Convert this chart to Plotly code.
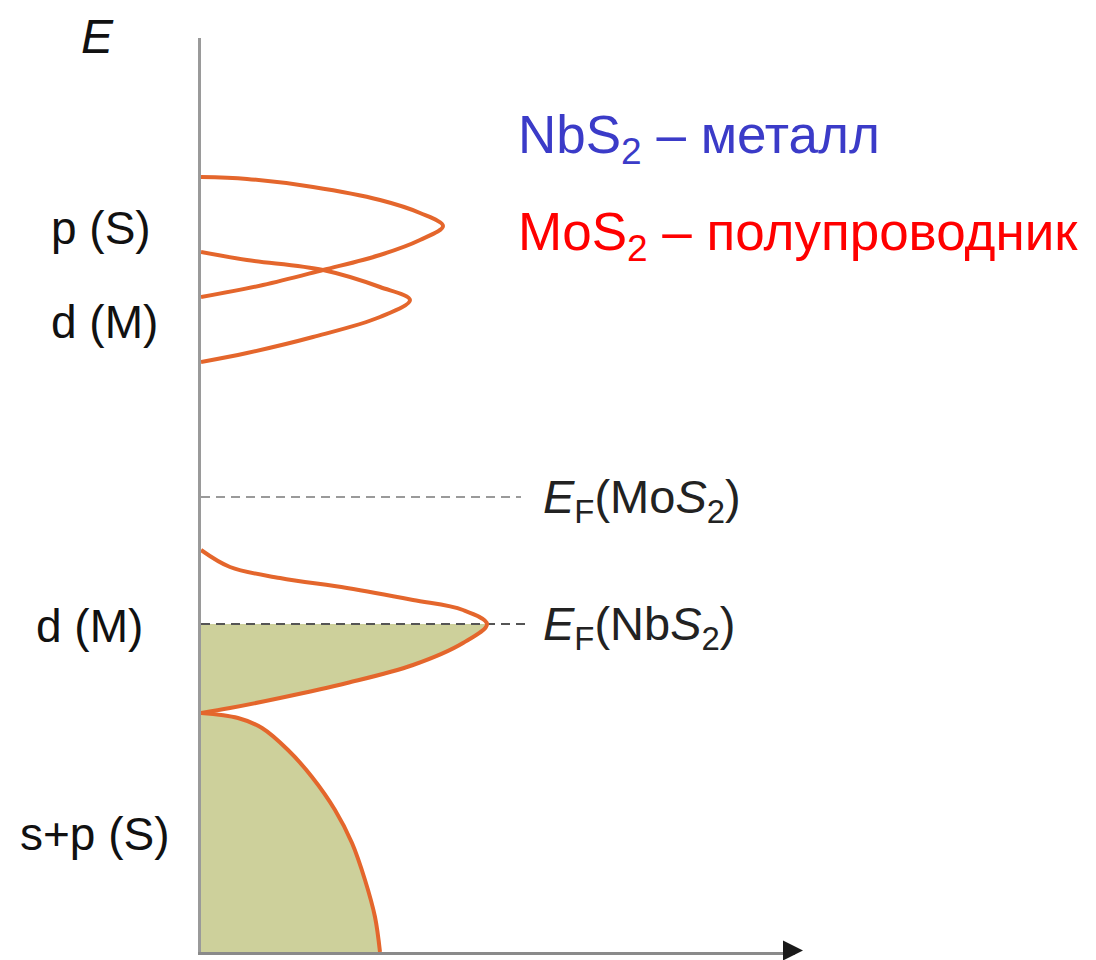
import plotly.graph_objects as go

# ---- data (DOS on x, energy E on y; arbitrary units) ----
pS_dos = [0, 0.46, 1.12, 1.79, 2.19, 2.42, 2.19, 1.79, 1.22, 0.62, 0]
pS_E = [7.75, 7.73, 7.65, 7.52, 7.39, 7.26, 7.12, 6.97, 6.82, 6.67, 6.55]

dMup_dos = [0, 0.46, 1.22, 1.79, 2.09, 1.79, 1.12, 0.46, 0]
dMup_E = [7.00, 6.92, 6.82, 6.65, 6.52, 6.35, 6.15, 5.99, 5.90]

dMlo_dos = [0, 0.29, 0.79, 1.46, 2.12, 2.62, 2.86, 2.62, 2.12, 1.46, 0.79, 0.29, 0]
dMlo_E = [4.02, 3.85, 3.74, 3.64, 3.52, 3.42, 3.28, 3.09, 2.87, 2.69, 2.54, 2.44, 2.39]

sp_dos = [0, 0.37, 0.61, 0.87, 1.11, 1.34, 1.51, 1.64, 1.74, 1.79]
sp_E = [2.39, 2.34, 2.24, 2.02, 1.75, 1.42, 1.09, 0.72, 0.35, 0.0]

EF_MoS2 = 4.55
EF_NbS2 = 3.28
EF_line_end = 3.20

band_labels = ["p (S)", "d (M)", "d (M)", "s+p (S)"]
band_label_x = [-1.00, -0.97, -1.12, -1.06]
band_label_E = [7.24, 6.30, 3.26, 1.18]

X_RANGE = 5.94
E_RANGE = 9.14

ORANGE = "#e4662c"
FILL = "#cdd09b"
FONT = "Liberation Sans, Arial, sans-serif"

fig = go.Figure()

# filled (occupied) states of NbS2: lower half of d(M) band below E_F and s+p band
peak_i = dMlo_E.index(EF_NbS2)
fig.add_trace(go.Scatter(x=dMlo_dos[peak_i:], y=dMlo_E[peak_i:], mode="lines",
                         line=dict(width=0, shape="spline"), fill="tozerox",
                         fillcolor=FILL, hoverinfo="skip"))
fig.add_trace(go.Scatter(x=sp_dos, y=sp_E, mode="lines",
                         line=dict(width=0, shape="spline"), fill="tozerox",
                         fillcolor=FILL, hoverinfo="skip"))

# Fermi levels
fig.add_trace(go.Scatter(x=[0, EF_line_end], y=[EF_MoS2, EF_MoS2], mode="lines",
                         line=dict(color="#9a9a9a", width=2, dash="9px,6px")))
fig.add_trace(go.Scatter(x=[0, EF_line_end + 0.04], y=[EF_NbS2, EF_NbS2], mode="lines",
                         line=dict(color="#555555", width=2, dash="9px,6px")))

# DOS curves
for xs, ys in [(pS_dos, pS_E), (dMup_dos, dMup_E), (dMlo_dos, dMlo_E), (sp_dos, sp_E)]:
    fig.add_trace(go.Scatter(x=xs, y=ys, mode="lines",
                             line=dict(color=ORANGE, width=4, shape="spline", smoothing=1.0),
                             cliponaxis=False))


def px(x):
    return x / X_RANGE


def py(e):
    return e / E_RANGE


ann = []
# arrow head at the end of the DOS axis
ann.append(dict(x=px(6.02), y=py(0.015), xref="paper", yref="paper", text="",
                showarrow=True, ax=-20, ay=0, arrowhead=2, arrowsize=2, arrowwidth=2,
                arrowcolor="#1a1a1a"))
for t, x, y in zip(band_labels, band_label_x, band_label_E):
    ann.append(dict(x=px(x), y=py(y), xref="paper", yref="paper", text=t, showarrow=False,
                    xanchor="center", yanchor="middle",
                    font=dict(size=46, color="#111111", family=FONT)))
ann.append(dict(x=px(-1.04), y=py(9.44), xref="paper", yref="paper", text="<i>E</i>",
                showarrow=False, xanchor="center", yanchor="top",
                font=dict(size=48, color="#111111", family=FONT)))
ann.append(dict(x=px(3.40), y=py(EF_MoS2 - 0.03), xref="paper", yref="paper",
                text="<i>E</i><sub>F</sub>(Mo<i>S</i><sub>2</sub>)",
                showarrow=False, xanchor="left", yanchor="middle",
                font=dict(size=47, color="#222222", family=FONT)))
ann.append(dict(x=px(3.40), y=py(EF_NbS2 - 0.03), xref="paper", yref="paper",
                text="<i>E</i><sub>F</sub>(Nb<i>S</i><sub>2</sub>)",
                showarrow=False, xanchor="left", yanchor="middle",
                font=dict(size=47, color="#222222", family=FONT)))
ann.append(dict(x=px(3.15), y=py(8.14), xref="paper", yref="paper",
                text="NbS<sub>2</sub> – металл", showarrow=False,
                xanchor="left", yanchor="middle",
                font=dict(size=53, color="#3b3bc8", family=FONT)))
ann.append(dict(x=px(3.15), y=py(7.17), xref="paper", yref="paper",
                text="MoS<sub>2</sub> – полупроводник", showarrow=False,
                xanchor="left", yanchor="middle",
                font=dict(size=53, color="#ff0000", family=FONT)))

# page body has an 8 px margin, so the figure is sized/offset to compensate
fig.update_layout(
    width=1080, height=952,
    margin=dict(l=193, r=293, t=30, b=8, autoexpand=False),
    paper_bgcolor="white", plot_bgcolor="white",
    showlegend=False,
    annotations=ann,
    xaxis=dict(range=[0, X_RANGE], showgrid=False, zeroline=False, showticklabels=False,
               ticks="", showline=True, linecolor="#8a8a8a", linewidth=3, fixedrange=True),
    yaxis=dict(range=[0, E_RANGE], showgrid=False, zeroline=False, showticklabels=False,
               ticks="", showline=True, linecolor="#9a9a9a", linewidth=3, fixedrange=True),
)

fig.write_html("out.html")
